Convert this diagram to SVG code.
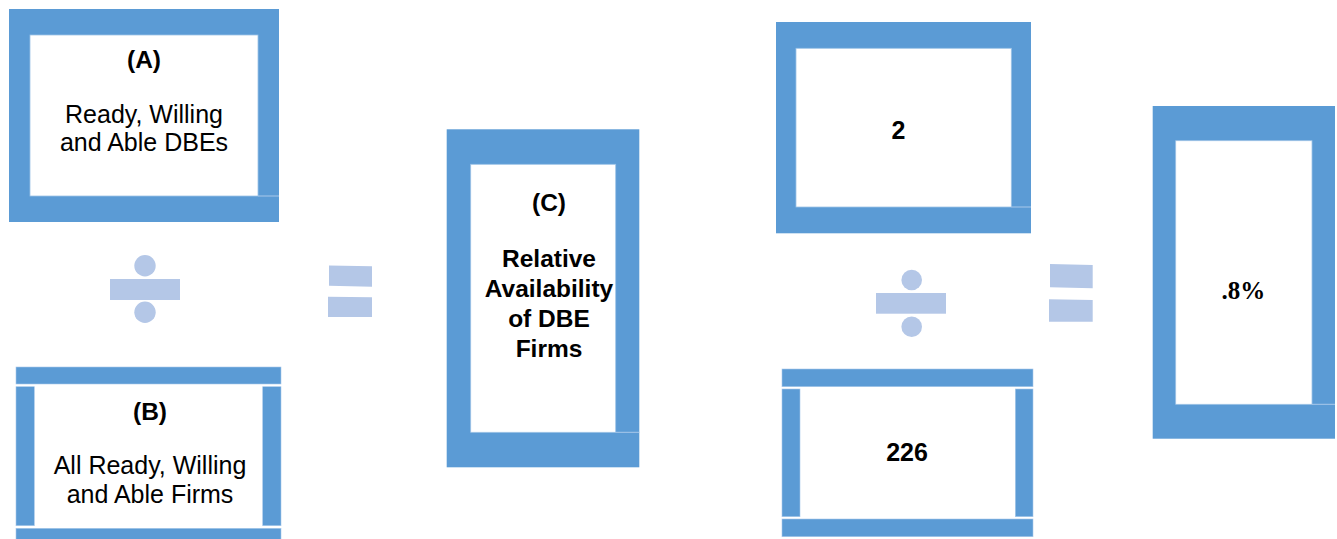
<svg xmlns="http://www.w3.org/2000/svg" width="1337" height="539" viewBox="0 0 1337 539">
<style>
.frame{fill:#5B9BD5;}
.inner{fill:#FFFFFF;stroke:#9DC3E6;stroke-width:0.8;}
.seam{stroke:#A9C8EA;stroke-width:1;fill:none;}
.bar{fill:#5B9BD5;stroke:#A9C8EA;stroke-width:0.6;}
.op{fill:#B4C7E7;}
.t{font-family:"Liberation Sans",Arial,sans-serif;font-size:25px;fill:#000;text-anchor:middle;}
.b{font-family:"Liberation Sans",Arial,sans-serif;font-size:24.5px;font-weight:bold;fill:#000;text-anchor:middle;}
.n{font-family:"Liberation Sans",Arial,sans-serif;font-size:25px;font-weight:bold;fill:#000;text-anchor:middle;}
.s{font-family:"Liberation Serif","Times New Roman",serif;font-size:25px;font-weight:bold;fill:#000;text-anchor:middle;}
</style>
<rect width="1337" height="539" fill="#FFFFFF"/>
<g id="connectors"></g>
<g id="nodeA">
<rect class="frame" x="9" y="9" width="270" height="213"/>
<rect class="inner" x="30" y="35" width="228" height="161"/>
<line class="seam" x1="258" y1="196" x2="279" y2="196"/>
<text class="b" x="144" y="68">(A)</text>
<text class="t" x="144" y="123">Ready, Willing</text>
<text class="t" x="144" y="151">and Able DBEs</text>
</g>
<g id="nodeB">
<rect class="bar" x="16" y="367" width="265" height="17"/>
<rect class="bar" x="16" y="386.7" width="18.3" height="139"/>
<rect class="bar" x="262.7" y="386.7" width="18.3" height="139"/>
<rect class="bar" x="16" y="528.3" width="265" height="14"/>
<text class="b" x="150" y="420">(B)</text>
<text class="t" x="150" y="473.5">All Ready, Willing</text>
<text class="t" x="150" y="502.5">and Able Firms</text>
</g>
<g id="divideLeft">
<circle class="op" cx="145" cy="265.7" r="10.7"/>
<rect class="op" x="110" y="279" width="70" height="21"/>
<circle class="op" cx="145" cy="312.3" r="10.7"/>
</g>
<g id="equalsLeft">
<polygon class="op" points="329,265.6 372,266.3 372,286.7 329,285.8"/>
<polygon class="op" points="328,296.7 372,297.3 372,317 328,317"/>
</g>
<g id="nodeC">
<rect class="frame" x="446.7" y="129.3" width="192.6" height="338"/>
<rect class="inner" x="470.7" y="164.3" width="145" height="268"/>
<line class="seam" x1="615.7" y1="432.3" x2="639.3" y2="432.3"/>
<text class="b" x="549" y="211">(C)</text>
<text class="b" x="549" y="267">Relative</text>
<text class="b" x="549" y="297">Availability</text>
<text class="b" x="549" y="327">of DBE</text>
<text class="b" x="549" y="357">Firms</text>
</g>
<g id="nodeTwo">
<rect class="frame" x="776" y="22" width="255" height="211.3"/>
<rect class="inner" x="796" y="48.3" width="215.3" height="158.7"/>
<line class="seam" x1="1011.3" y1="207" x2="1031" y2="207"/>
<text class="n" x="898.5" y="139.3">2</text>
</g>
<g id="divideRight">
<circle class="op" cx="911.7" cy="280" r="10.3"/>
<rect class="op" x="876" y="293" width="70" height="20.7"/>
<circle class="op" cx="911.7" cy="326.7" r="10.3"/>
</g>
<g id="node226">
<rect class="bar" x="782" y="369" width="251" height="17.7"/>
<rect class="bar" x="782" y="389" width="18" height="127.7"/>
<rect class="bar" x="1015.3" y="389" width="17.7" height="127.7"/>
<rect class="bar" x="782" y="519" width="251" height="17.7"/>
<text class="n" x="907" y="460.7">226</text>
</g>
<g id="equalsRight">
<polygon class="op" points="1050,264 1092.7,265 1092.7,288.3 1050,287.3"/>
<polygon class="op" points="1049,299.3 1092.7,300 1092.7,321.7 1049,321.7"/>
</g>
<g id="nodeResult">
<rect class="frame" x="1152.7" y="106" width="182.3" height="332.7"/>
<rect class="inner" x="1175.7" y="140.7" width="136.3" height="263.6"/>
<line class="seam" x1="1312" y1="404.3" x2="1335" y2="404.3"/>
<text class="s" x="1243.3" y="299.3">.8%</text>
</g>
</svg>
